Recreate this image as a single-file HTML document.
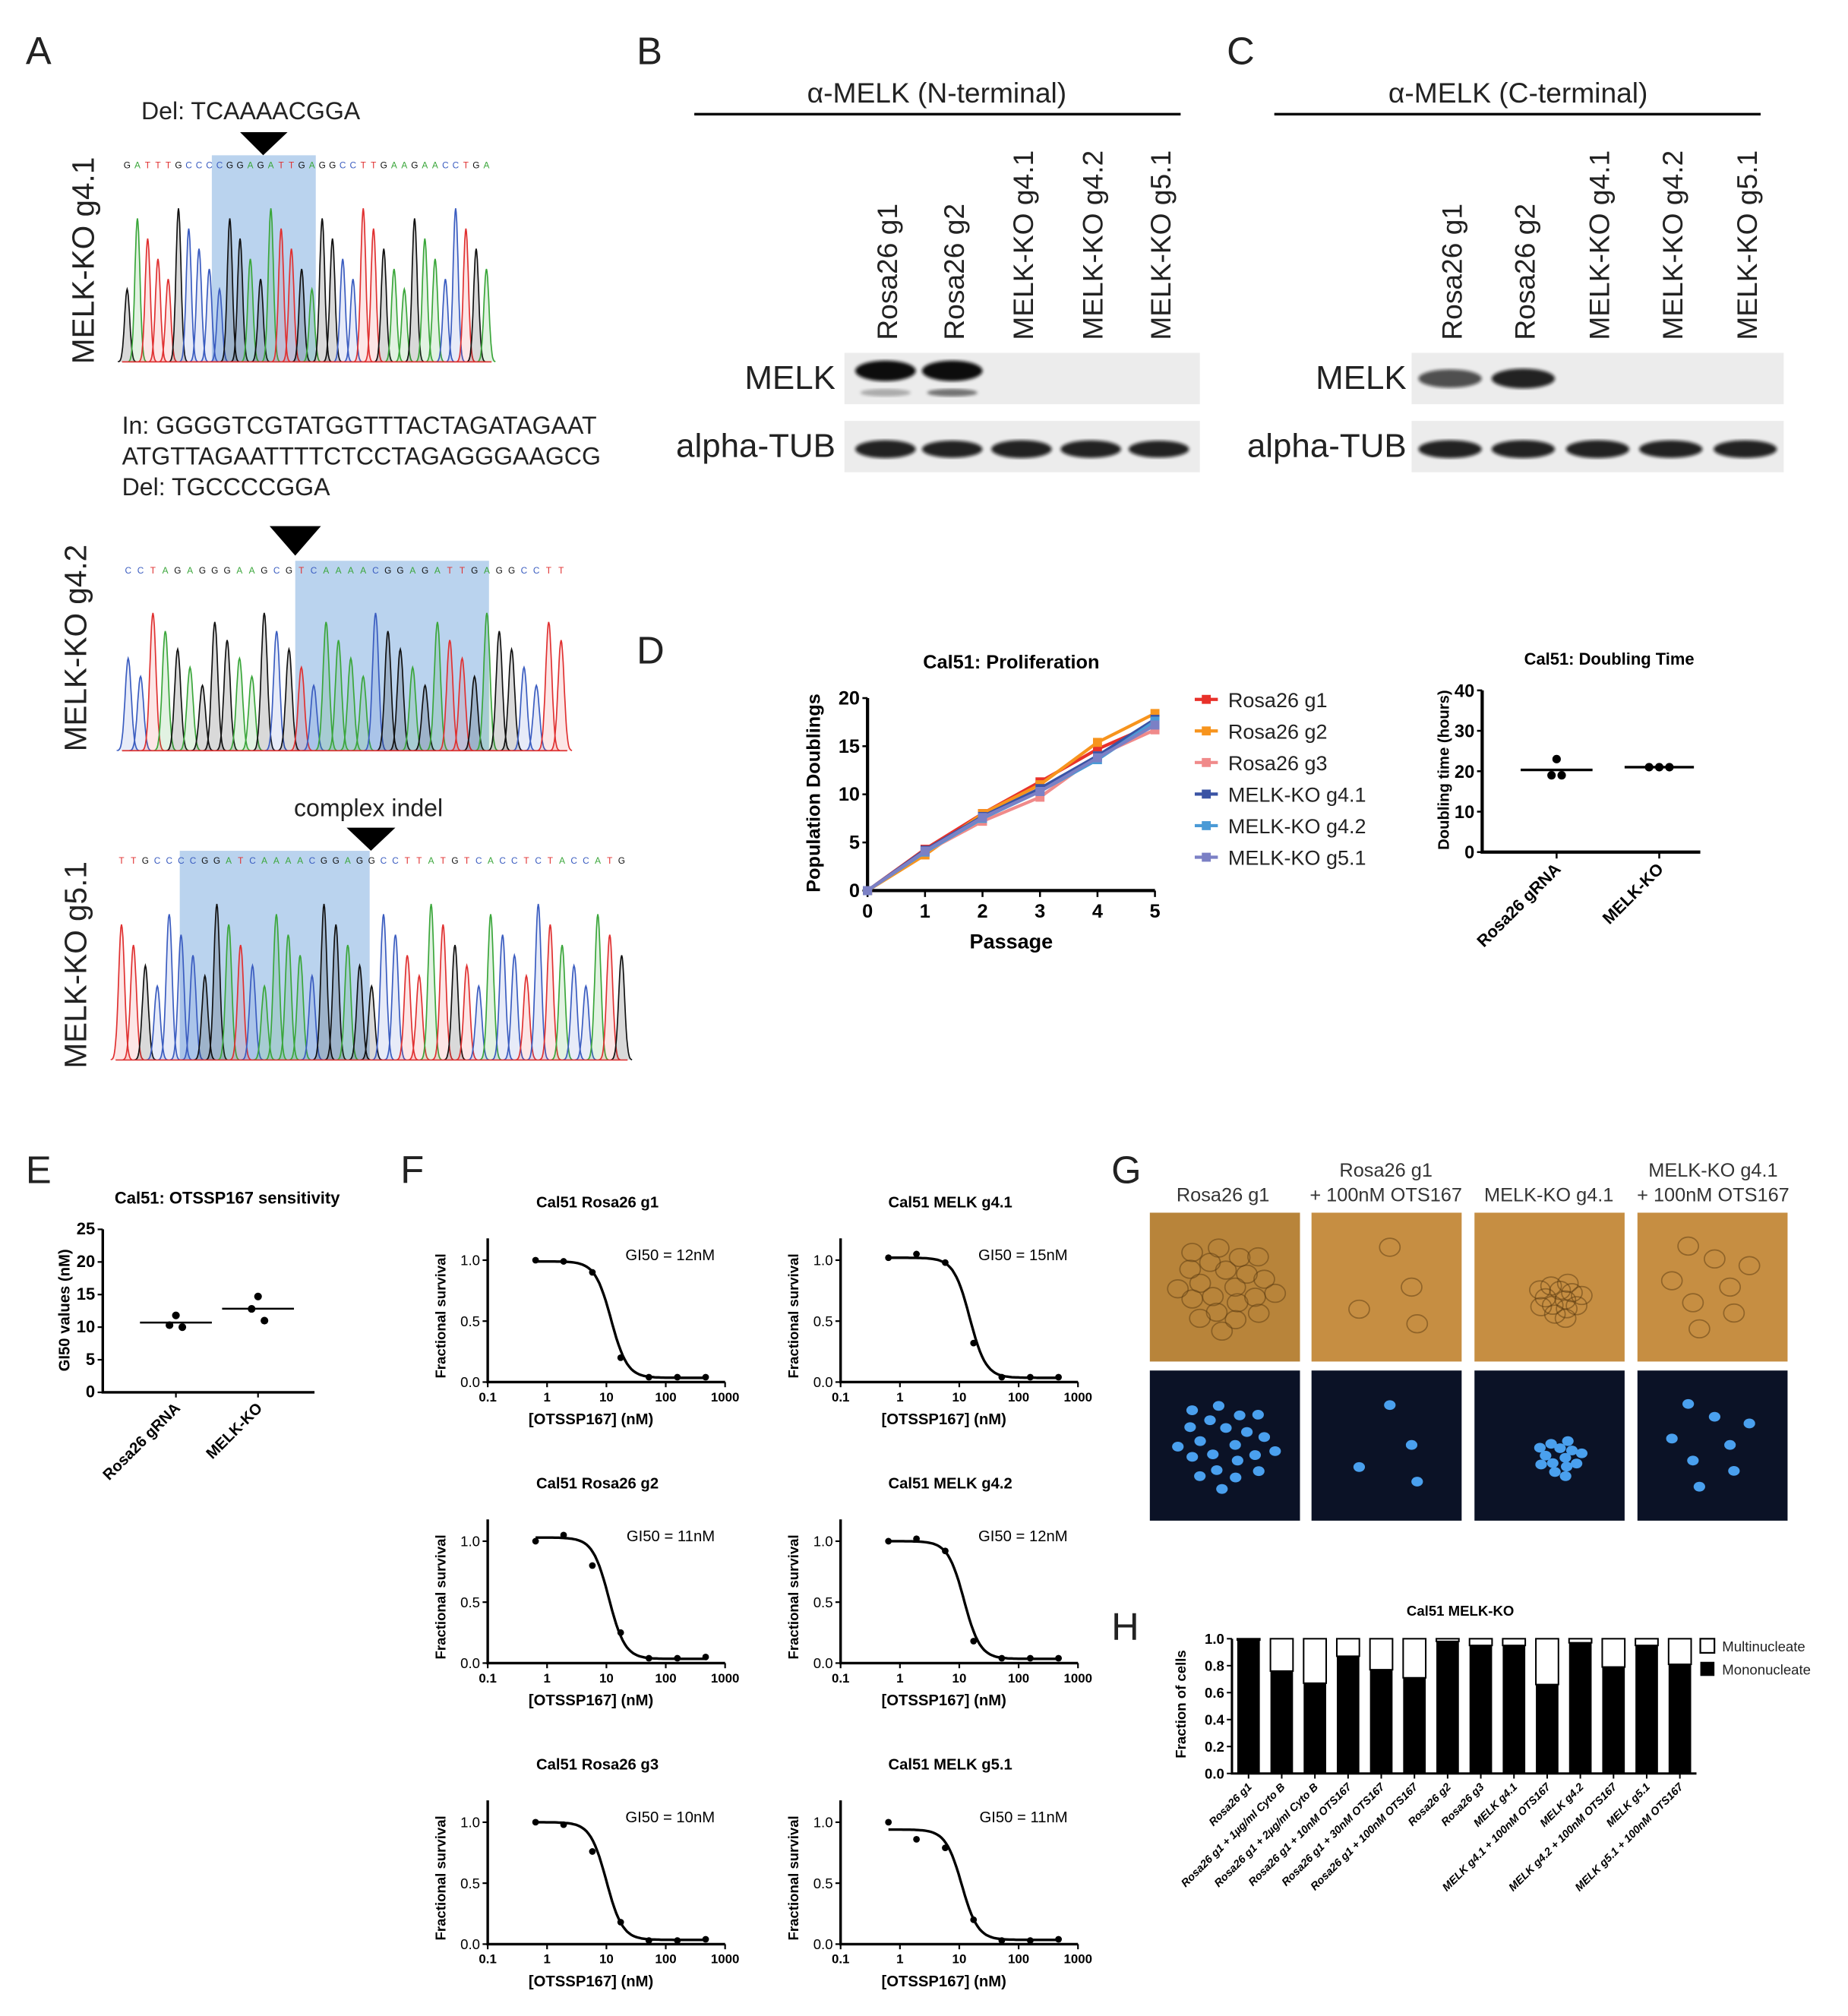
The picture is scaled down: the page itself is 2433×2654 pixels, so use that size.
<!DOCTYPE html>
<html><head><meta charset="utf-8"><style>
html,body{margin:0;padding:0;background:#fff;}
svg{display:block;font-family:"Liberation Sans",sans-serif;}
</style></head><body>
<svg id="fig" width="2433" height="2654" viewBox="0 0 1440 1571" xmlns="http://www.w3.org/2000/svg">
<defs>
<filter id="blur2"><feGaussianBlur stdDeviation="1.2"/></filter>
</defs>
<g font-size="30" fill="#222">
<text x="20" y="50">A</text>
<text x="496" y="50">B</text>
<text x="956" y="50">C</text>
<text x="496" y="517">D</text>
<text x="20" y="922">E</text>
<text x="312" y="922">F</text>
<text x="866" y="922">G</text>
<text x="866" y="1278">H</text>
</g>
<g font-size="19" fill="#222">
<text x="110" y="93">Del: TCAAAACGGA</text>
<text x="95" y="338">In: GGGGTCGTATGGTTTACTAGATAGAAT</text>
<text x="95" y="362">ATGTTAGAATTTTCTCCTAGAGGGAAGCG</text>
<text x="95" y="386">Del: TGCCCCGGA</text>
<text x="229" y="636">complex indel</text>
</g>
<g font-size="24" fill="#222" text-anchor="middle">
<text transform="translate(73,203) rotate(-90)">MELK-KO g4.1</text>
<text transform="translate(67,505) rotate(-90)">MELK-KO g4.2</text>
<text transform="translate(67,752) rotate(-90)">MELK-KO g5.1</text>
</g>
<g id="chromos"></g>
<polygon points="187,103 224,103 205,121" fill="#000"/>
<polygon points="210,410 250,410 230,433" fill="#000"/>
<polygon points="270,645 308,645 289,663" fill="#000"/>
<g font-size="22" fill="#222" text-anchor="middle">
<text x="730" y="80">α-MELK (N-terminal)</text>
<text x="1183" y="80">α-MELK (C-terminal)</text>
</g>
<line x1="541" y1="89" x2="920" y2="89" stroke="#000" stroke-width="2"/>
<line x1="993" y1="89" x2="1372" y2="89" stroke="#000" stroke-width="2"/>
<g id="blots"></g>
<g id="panelD"></g>
<g id="panelE"></g>
<g id="panelF"></g>
<g id="panelG" font-size="15" fill="#333" text-anchor="middle">
<text x="953" y="936">Rosa26 g1</text>
<text x="1080" y="917">Rosa26 g1</text>
<text x="1080" y="936">+ 100nM OTS167</text>
<text x="1207" y="936">MELK-KO g4.1</text>
<text x="1335" y="917">MELK-KO g4.1</text>
<text x="1335" y="936">+ 100nM OTS167</text>
</g>
<g id="panelH"></g>
</svg>
<script>
const NS='http://www.w3.org/2000/svg';
function el(tag,attrs,parent,text){const e=document.createElementNS(NS,tag);for(const k in attrs)e.setAttribute(k,attrs[k]);if(text!==undefined)e.textContent=text;parent.appendChild(e);return e;}

/* ---------- Panel A chromatograms ---------- */
const baseCol={A:'#3aa63a',C:'#3a5cc0',G:'#111',T:'#e03030'};
const fillCol={A:'rgba(60,170,60,0.15)',C:'rgba(60,90,200,0.12)',G:'rgba(0,0,0,0.15)',T:'rgba(230,50,50,0.12)'};
const chromSeqs=['GATTTGCCCCGGAGATTGAGGCCTTGAAGAACCTGA','CCTAGAGGGAAGCGTCAAAACGGAGATTGAGGCCTT','TTGCCCCGGATCAAAACGGAGGCCTTATGTCACCTCTACCATG'];
const chromBoxes=[[95,121,383,282,165,246],[95,437,442,585,230,381],[90,663,489,826,140,288]];
const chromNames=['g41','g42','g51'];
const cg=document.getElementById('chromos');
chromSeqs.forEach((seq,ci)=>{
  const [x0,y0,x1,y1,hx0,hx1]=chromBoxes[ci];
  const g=el('g',{},cg);
  
  
  const hr=el('rect',{x:hx0,y:y0,width:hx1-hx0,height:y1-y0,fill:'#a9c8ea',opacity:0.8},g);
  
  
  const n=seq.length, step=(x1-x0)/n;
  for(let i=0;i<n;i++){
    const b=seq[i];
    const tx=el('text',{x:x0+step*(i+0.5),y:y0+10,'font-size':7,fill:baseCol[b],'text-anchor':'middle'},g,b);
    
    
    const cx=x0+step*(i+0.5);
    const h=(y1-y0-35)*(0.45+0.5*(((i*7+ci*3)%9)/8));
    const w=step*0.55;
    let d='M'+(cx-w*1.6)+','+y1;
    for(let k=-16;k<=16;k++){const xx=cx+k*w/10;const yy=y1-h*Math.exp(-(k/10)*(k/10)*2.5);d+=' L'+xx.toFixed(1)+','+yy.toFixed(1);}
    const p=el('path',{d:d,fill:fillCol[b],stroke:baseCol[b],'stroke-width':1},g);
    
    
  }
  const bl=el('line',{x1:x0,y1:y1,x2:x1,y2:y1,stroke:'#d33','stroke-width':1},g);
  
  
});

/* ---------- Blots ---------- */
const laneLabels=['Rosa26 g1','Rosa26 g2','MELK-KO g4.1','MELK-KO g4.2','MELK-KO g5.1'];
const blotB_lanes=[690,742,796,850,903];
const blotC_lanes=[1130,1187,1245,1302,1360];
const melkB=[1,1,0,0,0];
const melkC=[0.7,0.9,0,0,0];
const tubB=[1,0.85,1,0.9,0.8];
const tubC=[1,1,1,0.9,0.95];
const blots=document.getElementById('blots');
function drawBlot(name,lanes,x0,x1,labelX,melk,tub){
  const g=el('g',{},blots);
  
  
  lanes.forEach((lx,i)=>{
    const tx=el('text',{transform:`translate(${lx+9},265) rotate(-90)`,'font-size':22,fill:'#222'},g,laneLabels[i]);
    
    
  });
  const s1=el('rect',{x:x0,y:275,width:x1-x0,height:40,fill:'#ececec'},g);
  
  
  const s2=el('rect',{x:x0,y:328,width:x1-x0,height:40,fill:'#ececec'},g);
  
  
  const l1=el('text',{x:labelX,y:303,'font-size':26,fill:'#222','text-anchor':'end'},g,'MELK');
  
  
  const l2=el('text',{x:labelX,y:356,'font-size':26,fill:'#222','text-anchor':'end'},g,'alpha-TUB');
  
  
  const lw=(x1-x0)/5*0.85;
  lanes.forEach((lx,i)=>{
    if(melk[i]>0){
      const b=el('ellipse',{cx:lx,cy:name==='b'?289:295,rx:lw/2,ry:5+3*melk[i],fill:'#111',opacity:melk[i],filter:'url(#blur2)'},g);
      
      
      if(name==='b'){
        const b2=el('ellipse',{cx:lx,cy:306,rx:lw/2.4,ry:3,fill:'#333',opacity:0.35*melk[i]+(i===1?0.3:0),filter:'url(#blur2)'},g);
        
        
      }
    }
    const tb=el('ellipse',{cx:lx,cy:350,rx:lw/2,ry:5+2*tub[i],fill:'#111',opacity:0.9,filter:'url(#blur2)'},g);
    
    
  });
}
drawBlot('b',blotB_lanes,658,935,651,melkB,tubB);
drawBlot('c',blotC_lanes,1100,1390,1096,melkC,tubC);

/* ---------- Panel D ---------- */
const passages=[0,1,2,3,4,5];
const seriesNames=['Rosa26 g1','Rosa26 g2','Rosa26 g3','MELK-KO g4.1','MELK-KO g4.2','MELK-KO g5.1'];
const seriesColors=['#e8312a','#f7941d','#f08a8a','#3a53a4','#4a9ad6','#7b80c5'];
const g1Vals=[0,4.3,8.0,11.3,14.7,17.3];
const g2Vals=[0,3.7,8.0,11.0,15.4,18.4];
const g3Vals=[0,4.0,7.2,9.7,14.0,16.7];
const g41Vals=[0,4.2,7.7,10.6,14.0,17.8];
const g42Vals=[0,4.0,7.5,10.3,13.6,17.6];
const g51Vals=[0,4.1,7.6,10.3,13.8,17.2];
const profTicks=[0,5,10,15,20];
const dblRosa=[23,19,19];
const dblMelk=[21,21,21];
const dblTicks=[0,10,20,30,40];
const dblCats=['Rosa26 gRNA','MELK-KO'];

const D=document.getElementById('panelD');
const px=v=>676+v*(900-676)/5, py=v=>694-v*(694-544)/20;
let t=el('text',{x:788,y:521,'font-size':15,'font-weight':'bold','text-anchor':'middle'},D,'Cal51: Proliferation');

t=el('text',{transform:'translate(639,618) rotate(-90)','font-size':15,'font-weight':'bold','text-anchor':'middle'},D,'Population Doublings');

t=el('text',{x:788,y:739,'font-size':16,'font-weight':'bold','text-anchor':'middle'},D,'Passage');

let ax=el('path',{d:`M${px(0)},${py(20)} V${py(0)} H${px(5)}`,fill:'none',stroke:'#000','stroke-width':2.5},D);

profTicks.forEach(v=>{
  let tk=el('line',{x1:px(0)-4,y1:py(v),x2:px(0),y2:py(v),stroke:'#000','stroke-width':1.5},D);
  
  let tl=el('text',{x:px(0)-6,y:py(v)+5,'font-size':15,'font-weight':'bold','text-anchor':'end'},D,v);
  
});
passages.forEach(v=>{
  let tk=el('line',{x1:px(v),y1:py(0),x2:px(v),y2:py(0)+5,stroke:'#000','stroke-width':1.5},D);
  
  let tl=el('text',{x:px(v),y:py(0)+21,'font-size':15,'font-weight':'bold','text-anchor':'middle'},D,v);
  
});
[g1Vals,g2Vals,g3Vals,g41Vals,g42Vals,g51Vals].forEach((vals,si)=>{
  const c=seriesColors[si];
  const ln=el('polyline',{points:vals.map((v,i)=>px(passages[i])+','+py(v)).join(' '),fill:'none',stroke:c,'stroke-width':2.5},D);
  
  vals.forEach((v,i)=>{
    const m=el('rect',{x:px(passages[i])-3.5,y:py(v)-3.5,width:7,height:7,fill:c},D);
    
  });
  const ly=545+si*24.6;
  const lgE=el('g',{},D);
  
  el('line',{x1:931,y1:ly,x2:949,y2:ly,stroke:c,'stroke-width':2.5},lgE);
  el('rect',{x:936.5,y:ly-3.5,width:7,height:7,fill:c},lgE);
  el('text',{x:957,y:ly+6,'font-size':16,fill:'#222'},lgE,seriesNames[si]);
});

const dx0=1155,dx1=1325;const dy=v=>664-v*(664-538)/40;
t=el('text',{x:1254,y:518,'font-size':13,'font-weight':'bold','text-anchor':'middle'},D,'Cal51: Doubling Time');

t=el('text',{transform:'translate(1129,600) rotate(-90)','font-size':12,'font-weight':'bold','text-anchor':'middle'},D,'Doubling time (hours)');

ax=el('path',{d:`M${dx0},${dy(40)} V${dy(0)} H${dx1}`,fill:'none',stroke:'#000','stroke-width':2.5},D);

dblTicks.forEach(v=>{
  let tk=el('line',{x1:dx0-4,y1:dy(v),x2:dx0,y2:dy(v),stroke:'#000','stroke-width':1.5},D);
  
  let tl=el('text',{x:dx0-6,y:dy(v)+5,'font-size':14,'font-weight':'bold','text-anchor':'end'},D,v);
  
});
function dotGroup(parent,cx,vals,yf,r,halfw,name){
  const mean=vals.reduce((a,b)=>a+b)/vals.length;
  const ml=el('line',{x1:cx-halfw,y1:yf(mean),x2:cx+halfw,y2:yf(mean),stroke:'#000','stroke-width':2},parent);
  
  const cnt={};
  vals.forEach(v=>{cnt[v]=(cnt[v]||0)+1;});
  const seen={};
  vals.forEach(v=>{
    const n=cnt[v];seen[v]=(seen[v]||0);const off=(seen[v]-(n-1)/2)*r*2.4;seen[v]++;
    const d=el('circle',{cx:cx+off,cy:yf(v),r:r,fill:'#000'},parent);
    
  });
}
const dCats=[1213,1293];
dotGroup(D,dCats[0],dblRosa,dy,3.3,28,'rosa26');
dotGroup(D,dCats[1],dblMelk,dy,3.3,27,'melk-ko');
dCats.forEach((cx,i)=>{
  let tk=el('line',{x1:cx,y1:dy(0),x2:cx,y2:dy(0)+5,stroke:'#000','stroke-width':1.5},D);
  
  let tl=el('text',{transform:`translate(${cx+4},${dy(0)+14}) rotate(-45)`,'font-size':13,'font-weight':'bold','text-anchor':'end'},D,dblCats[i]);
  
});

/* ---------- Panel E ---------- */
const gi50Rosa=[11.8,10.3,10.0];
const gi50Melk=[14.7,12.8,11.0];
const eTicks=[0,5,10,15,20,25];
const E=document.getElementById('panelE');
const ex0=80,ex1=245;const ey=v=>1085-v*(1085-958)/25;
t=el('text',{x:177,y:938,'font-size':13,'font-weight':'bold','text-anchor':'middle'},E,'Cal51: OTSSP167 sensitivity');

t=el('text',{transform:'translate(54,1021) rotate(-90)','font-size':12,'font-weight':'bold','text-anchor':'middle'},E,'GI50 values (nM)');

ax=el('path',{d:`M${ex0},${ey(25)} V${ey(0)} H${ex1}`,fill:'none',stroke:'#000','stroke-width':2},E);

eTicks.forEach(v=>{
  let tk=el('line',{x1:ex0-4,y1:ey(v),x2:ex0,y2:ey(v),stroke:'#000','stroke-width':1.3},E);
  
  let tl=el('text',{x:ex0-6,y:ey(v)+4,'font-size':13,'font-weight':'bold','text-anchor':'end'},E,v);
  
});
const eCats=[137,201];
function dotsE(cx,vals,name){
  const mean=vals.reduce((a,b)=>a+b)/vals.length;
  const ml=el('line',{x1:cx-28,y1:ey(mean),x2:cx+28,y2:ey(mean),stroke:'#000','stroke-width':1.5},E);
  
  const offs=[0,-5,5];
  vals.forEach((v,i)=>{const d=el('circle',{cx:cx+offs[i],cy:ey(v),r:3,fill:'#000'},E);
    });
}
dotsE(eCats[0],gi50Rosa,'rosa26');dotsE(eCats[1],gi50Melk,'melk-ko');
dblCats.forEach((c,i)=>{
  let tk=el('line',{x1:eCats[i],y1:ey(0),x2:eCats[i],y2:ey(0)+4,stroke:'#000','stroke-width':1.3},E);
  
  let tl=el('text',{transform:`translate(${eCats[i]+4},${ey(0)+13}) rotate(-45)`,'font-size':12,'font-weight':'bold','text-anchor':'end'},E,c);
  
});

/* ---------- Panel F ---------- */
const concs=[0.64,1.9,5.8,17.4,52,157,470];
const fTitles=['Cal51 Rosa26 g1','Cal51 MELK g4.1','Cal51 Rosa26 g2','Cal51 MELK g4.2','Cal51 Rosa26 g3','Cal51 MELK g5.1'];
const fGI50=[12,15,11,12,10,11];
const survR1=[1.0,0.99,0.9,0.2,0.04,0.04,0.04];
const survM1=[1.02,1.05,0.98,0.32,0.04,0.04,0.04];
const survR2=[1.0,1.05,0.8,0.25,0.04,0.04,0.05];
const survM2=[1.0,1.02,0.92,0.18,0.04,0.04,0.04];
const survR3=[1.0,0.98,0.76,0.18,0.03,0.03,0.04];
const survM3=[1.0,0.86,0.79,0.2,0.03,0.03,0.04];
const fTop=[0.99,1.02,1.03,1.0,1.0,0.94];
const fXTicks=[0.1,1,10,100,1000];
const fYTicks=[0,0.5,1.0];
const F=document.getElementById('panelF');
[survR1,survM1,survR2,survM2,survR3,survM3].forEach((vals,k)=>{
  const col=k%2,row=Math.floor(k/2);
  const X0=col?655:380,X1=X0+185,Y0=1077+row*219,Y1=982+row*219;
  const fx=c=>X0+(Math.log10(c)+1)*(X1-X0)/4;
  const fy=v=>Y0-v*(Y0-Y1);
  const g=el('g',{},F);
  
  const tt=el('text',{x:(X0+X1)/2-7,y:Y0-136,'font-size':12,'font-weight':'bold','text-anchor':'middle'},g,fTitles[k]);
  
  const gt=el('text',{x:X0+177,y:Y0-95,'font-size':12,'text-anchor':'end'},g,'GI50 = '+fGI50[k]+'nM');
  
  const yt=el('text',{transform:`translate(${X0-33},${(Y0+Y1)/2-4}) rotate(-90)`,'font-size':11,'font-weight':'bold','text-anchor':'middle'},g,'Fractional survival');
  
  const xt=el('text',{x:(X0+X1)/2-12,y:Y0+33,'font-size':12,'font-weight':'bold','text-anchor':'middle'},g,'[OTSSP167] (nM)');
  
  const a=el('path',{d:`M${X0},${Y1-17} V${Y0} H${X1}`,fill:'none',stroke:'#000','stroke-width':2},g);
  
  fYTicks.forEach(v=>{
    const tk=el('line',{x1:X0-4,y1:fy(v),x2:X0,y2:fy(v),stroke:'#000','stroke-width':1.3},g);
    
    const tl=el('text',{x:X0-6,y:fy(v)+4,'font-size':11,'text-anchor':'end'},g,v.toFixed(1));
    
  });
  fXTicks.forEach(v=>{
    const tk=el('line',{x1:fx(v),y1:Y0,x2:fx(v),y2:Y0+4,stroke:'#000','stroke-width':1.3},g);
    
    const tl=el('text',{x:fx(v),y:Y0+15,'font-size':10,'font-weight':'bold','text-anchor':'middle'},g,v);
    
  });
  let d='';
  for(let i=0;i<=80;i++){const lc=Math.log10(0.64)+i*(Math.log10(470)-Math.log10(0.64))/80;const c=Math.pow(10,lc);
    const v=0.035+(fTop[k]-0.035)/(1+Math.pow(c/fGI50[k],3.2));d+=(i?' L':'M')+fx(c).toFixed(1)+','+fy(v).toFixed(1);}
  const cv=el('path',{d:d,fill:'none',stroke:'#000','stroke-width':2},g);
  
  vals.forEach((v,i)=>{const p=el('circle',{cx:fx(concs[i]),cy:fy(v),r:2.6,fill:'#000'},g);
    });
});

/* ---------- Panel G ---------- */
const G=document.getElementById('panelG');
const gCols=[896,1022,1149,1276];
const nucleiCounts=[22,4,14,8];
gCols.forEach((x,i)=>{
  const r1=el('rect',{x:x,y:945,width:117,height:116,fill:i===0?'#b8843a':'#c68e42'},G);
  
  const r2=el('rect',{x:x,y:1068,width:117,height:117,fill:'#0b1226'},G);
  
  const n=nucleiCounts[i];
  for(let j=0;j<n;j++){
    const ang=j*2.4, rad=(i===0?40:i===2?18:40)*Math.sqrt((j+1)/n);
    const cx=x+58+(i===2?8:0)+rad*Math.cos(ang), cy=1126+(i===2?10:0)+rad*Math.sin(ang)*0.9;
    const c=el('ellipse',{cx:cx,cy:cy,rx:4.5,ry:3.8,fill:'#4aa0ee'},G);
    
    const cc=el('ellipse',{cx:cx,cy:cy-123,rx:8,ry:7,fill:'none',stroke:'#5a3a10','stroke-width':1,opacity:0.5},G);
    
  }
});

/* ---------- Panel H ---------- */
const hCats=['Rosa26 g1','Rosa26 g1 + 1µg/ml Cyto B','Rosa26 g1 + 2µg/ml Cyto B','Rosa26 g1 + 10nM OTS167','Rosa26 g1 + 30nM OTS167','Rosa26 g1 + 100nM OTS167','Rosa26 g2','Rosa26 g3','MELK g4.1','MELK g4.1 + 100nM OTS167','MELK g4.2','MELK g4.2 + 100nM OTS167','MELK g5.1','MELK g5.1 + 100nM OTS167'];
const mono=[0.99,0.76,0.67,0.87,0.77,0.71,0.98,0.95,0.95,0.66,0.97,0.79,0.95,0.81];
const hTicks=[0,0.2,0.4,0.6,0.8,1.0];
const H=document.getElementById('panelH');
const hx0=960,hx1=1322;const hy=v=>1382-v*(1382-1277);
const bw=(hx1-hx0)/hCats.length;
t=el('text',{x:1138,y:1259,'font-size':11,'font-weight':'bold','text-anchor':'middle'},H,'Cal51 MELK-KO');

t=el('text',{transform:'translate(924,1328) rotate(-90)','font-size':11,'font-weight':'bold','text-anchor':'middle'},H,'Fraction of cells');

hTicks.forEach(v=>{
  const tk=el('line',{x1:hx0-4,y1:hy(v),x2:hx0,y2:hy(v),stroke:'#000','stroke-width':1.2},H);
  
  const tl=el('text',{x:hx0-6,y:hy(v)+4,'font-size':11,'font-weight':'bold','text-anchor':'end'},H,v.toFixed(1));
  
});
mono.forEach((v,i)=>{
  const cx=hx0+bw*(i+0.5);
  const w=bw*0.68;
  const top=el('rect',{x:cx-w/2,y:hy(1),width:w,height:hy(v)-hy(1),fill:'#fff',stroke:'#000','stroke-width':1.2},H);
  
  const b=el('rect',{x:cx-w/2,y:hy(v),width:w,height:hy(0)-hy(v),fill:'#000'},H);
  
  const tk=el('line',{x1:cx,y1:hy(0),x2:cx,y2:hy(0)+4,stroke:'#000','stroke-width':1.2},H);
  
  const tl=el('text',{transform:`translate(${cx+3},${hy(0)+11}) rotate(-45)`,'font-size':8.6,'font-weight':'bold','font-style':'italic','text-anchor':'end'},H,hCats[i]);
  
});
ax=el('path',{d:`M${hx0},${hy(1)} V${hy(0)} H${hx1}`,fill:'none',stroke:'#000','stroke-width':1.8},H);

let lg=el('g',{},H);
el('rect',{x:1325,y:1277,width:11,height:11,fill:'#fff',stroke:'#000','stroke-width':1.3},lg);
el('text',{x:1342,y:1287,'font-size':11,fill:'#222'},lg,'Multinucleate');
lg=el('g',{},H);
el('rect',{x:1325,y:1295,width:11,height:11,fill:'#000'},lg);
el('text',{x:1342,y:1305,'font-size':11,fill:'#222'},lg,'Mononucleate');
</script>
</body></html>
